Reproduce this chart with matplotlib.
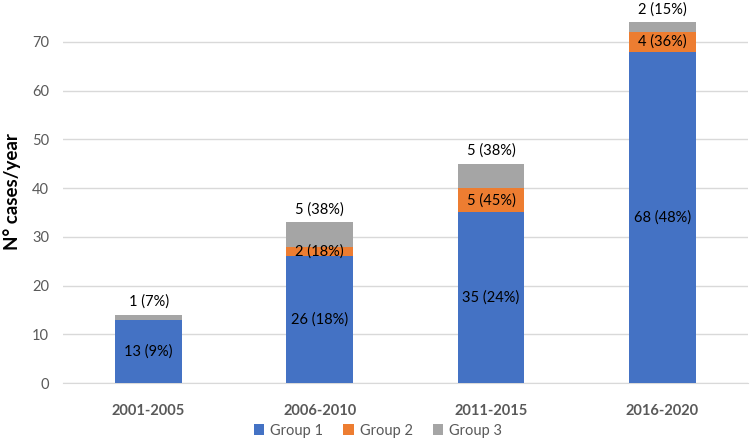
import numpy as np
import matplotlib
matplotlib.use('Agg')
import matplotlib.pyplot as plt

plt.rcParams['font.family'] = ['Lato', 'DejaVu Sans']

periods = ['2001-2005', '2006-2010', '2011-2015', '2016-2020']
group1 = [13, 26, 35, 68]
group2 = [0, 2, 5, 4]
group3 = [1, 5, 5, 2]
labels1 = ['13 (9%)', '26 (18%)', '35 (24%)', '68 (48%)']
labels2 = ['', '2 (18%)', '5 (45%)', '4 (36%)']
labels3 = ['1 (7%)', '5 (38%)', '5 (38%)', '2 (15%)']

colors = ['#4472C4', '#ED7D31', '#A5A5A5']

fig = plt.figure(figsize=(7.5, 4.43), dpi=100)
ax = fig.add_axes([0.084, 0.1354, 0.913, 0.8646])

x = np.arange(len(periods))
w = 0.39
g1 = np.array(group1)
g2 = np.array(group2)
g3 = np.array(group3)

ax.bar(x, g1, w, color=colors[0], label='Group 1', zorder=3)
ax.bar(x, g2, w, bottom=g1, color=colors[1], label='Group 2', zorder=3)
ax.bar(x, g3, w, bottom=g1 + g2, color=colors[2], label='Group 3', zorder=3)

for i in range(len(periods)):
    ax.text(x[i], g1[i] / 2, labels1[i], ha='center', va='center', fontsize=10.5, color='black', zorder=4)
    if labels2[i]:
        ax.text(x[i], g1[i] + g2[i] / 2, labels2[i], ha='center', va='center', fontsize=10.5, color='black', zorder=4)
    ax.text(x[i], g1[i] + g2[i] + g3[i] + 1.2, labels3[i], ha='center', va='bottom', fontsize=10.5, color='black', zorder=4)

ax.set_xlim(-0.5, 3.5)
ax.set_ylim(0, 78.6)
ax.set_yticks(range(0, 80, 10))
ax.set_xticks(x)
ax.set_xticklabels(periods, fontweight='bold', fontsize=10.5, color='#595959')
ax.tick_params(axis='y', labelsize=10.5, colors='#595959', length=0, pad=10)
ax.tick_params(axis='x', length=0, pad=15)
ax.grid(axis='y', color='#D9D9D9', linewidth=1, zorder=0)
for s in ['top', 'right', 'left']:
    ax.spines[s].set_visible(False)
ax.spines['bottom'].set_color('#D9D9D9')
ax.set_ylabel('N° cases/year', fontweight='bold', fontsize=13.5, labelpad=8)

fig.legend(loc='center', bbox_to_anchor=(0.504, 0.028), ncol=3, frameon=False,
           fontsize=10.5, handlelength=0.7, handleheight=0.7, handletextpad=0.4,
           columnspacing=1.4, labelcolor='#595959')

fig.savefig('out.png', dpi=100)
